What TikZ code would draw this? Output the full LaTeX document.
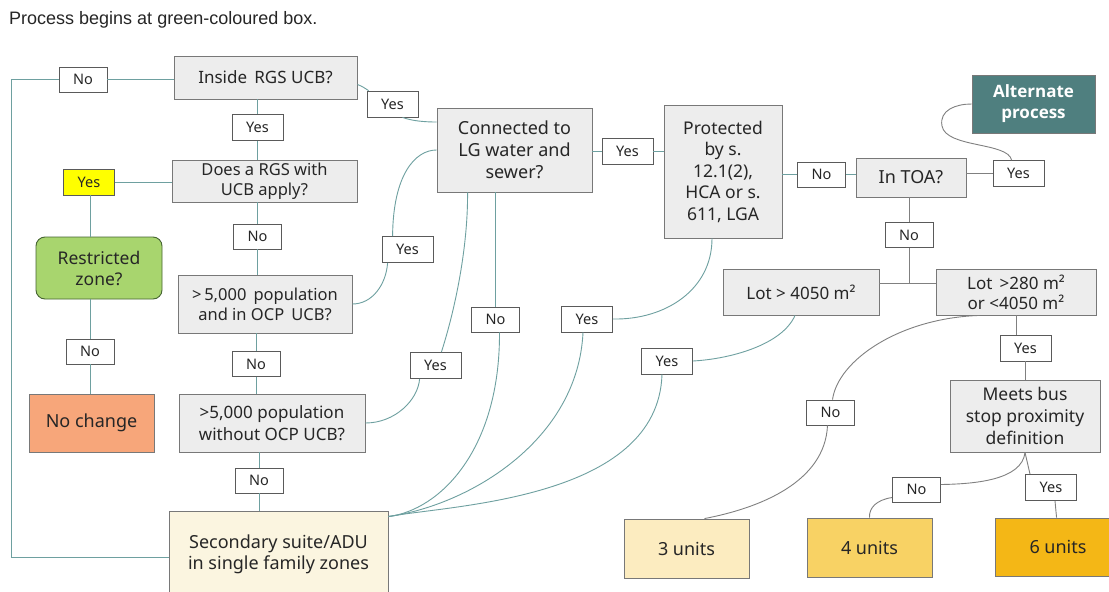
\documentclass[tikz,border=0pt]{standalone}
\usepackage{fontspec}
\setmainfont{Noto Sans}
\newfontfamily\altfont{Open Sans}
\newfontfamily\titlefont{Liberation Sans}
\usetikzlibrary{calc}

\definecolor{connc}{RGB}{110,160,160}
\definecolor{conngc}{RGB}{128,128,128}
\definecolor{boxfill}{RGB}{237,237,237}
\definecolor{boxdraw}{RGB}{120,120,120}
\definecolor{labdraw}{RGB}{90,90,90}
\definecolor{ylwc}{RGB}{255,255,0}
\definecolor{grnc}{RGB}{168,213,110}
\definecolor{grndc}{RGB}{70,100,50}
\definecolor{orngc}{RGB}{247,166,122}
\definecolor{creamc}{RGB}{251,245,224}
\definecolor{uthree}{RGB}{252,236,192}
\definecolor{ufour}{RGB}{248,210,100}
\definecolor{usix}{RGB}{244,183,22}
\definecolor{altc}{RGB}{79,127,127}
\definecolor{txtc}{RGB}{38,38,38}

\begin{document}
\begin{tikzpicture}[x=1pt,y=-1pt,
 qbox/.style={draw=boxdraw, fill=boxfill, line width=0.9pt, inner sep=0pt, align=center,
   font=\fontsize{17}{21.5}\selectfont, text=txtc},
 lab/.style={draw=labdraw, fill=white, line width=0.8pt, inner sep=0pt, minimum width=48,
   minimum height=25, font=\fontsize{14.5}{17}\selectfont, text=txtc},
 ylab/.style={lab, minimum width=51, minimum height=26},
 conn/.style={draw=connc, line width=0.9pt},
 conng/.style={draw=conngc, line width=0.9pt}]

\useasboundingbox (0,0) rectangle (1109,592);
\fill[white] (0,0) rectangle (1109,592);

% title
\node[anchor=west, inner sep=0pt, font=\titlefont\fontsize{18}{21}\selectfont, text=black!85] (title) at (9,20) {Process begins at green-coloured box.};

% main boxes
\node[qbox, minimum width=183, minimum height=43] (inside) at (265.5,77.5) {Inside \,RGS UCB?};
\node[qbox, minimum width=185, minimum height=42, font=\fontsize{16.5}{20}\selectfont] (does) at (264.5,181) {Does a RGS with\\UCB apply?};
\node[qbox, minimum width=174, minimum height=58, font=\fontsize{16.5}{20}\selectfont] (pop1) at (265,304) {>\,5,000 \,population\\and in OCP \,UCB?};
\node[qbox, minimum width=186, minimum height=58] (pop2) at (272,423) {>5,000 population\\without OCP UCB?};
\node[qbox, fill=creamc, minimum width=219, minimum height=86, font=\fontsize{18}{21}\selectfont] (secondary) at (278.5,554) {Secondary suite/ADU\\in single family zones};
\node[qbox, fill=grnc, draw=grndc, rounded corners=9pt, minimum width=126, minimum height=62, font=\fontsize{17.5}{21}\selectfont] (restricted) at (99,268) {Restricted\\zone?};
\node[qbox, fill=orngc, minimum width=125, minimum height=58, font=\fontsize{18}{21}\selectfont] (nochange) at (91.5,423) {No change};
\node[qbox, minimum width=155, minimum height=84, font=\fontsize{18}{22}\selectfont] (connected) at (514.5,150) {Connected to\\LG water and\\sewer?};
\node[qbox, minimum width=118, minimum height=133, font=\fontsize{17.5}{21.5}\selectfont] (protected) at (723,171.5) {Protected\\by s.\\12.1(2),\\HCA or s.\\611, LGA};
\node[qbox, minimum width=110, minimum height=39, font=\fontsize{18}{21}\selectfont] (toa) at (911,177.5) {In TOA?};
\node[qbox, fill=altc, draw=boxdraw, text=white, minimum width=123, minimum height=58, font=\altfont\bfseries\fontsize{17}{21}\selectfont] (alternate) at (1033.5,104) {Alternate\\process};
\node[qbox, minimum width=156, minimum height=46, font=\fontsize{17}{21}\selectfont] (lotone) at (801,292) {Lot > 4050 m²};
\node[qbox, minimum width=160, minimum height=46, font=\fontsize{17}{20}\selectfont] (lottwo) at (1016,292) {Lot \,>280 m²\\or <4050 m²};
\node[qbox, minimum width=150, minimum height=72, font=\fontsize{17.5}{22}\selectfont] (meets) at (1025,416) {Meets bus\\stop proximity\\definition};
\node[qbox, fill=uthree, minimum width=125, minimum height=59, font=\fontsize{18}{21}\selectfont] (uthreebox) at (686.5,548.5) {3 units};
\node[qbox, fill=ufour, minimum width=125, minimum height=59, font=\fontsize{18}{21}\selectfont] (ufourbox) at (869.5,547.5) {4 units};
\node[qbox, fill=usix, minimum width=126, minimum height=58, font=\fontsize{18}{21}\selectfont] (usixbox) at (1058,547) {6 units};

% labels
\node[lab] (nA) at (83,79.5) {No};
\node[ylab] (yA) at (257.5,127.5) {Yes};
\node[ylab] (yB) at (392.5,104) {Yes};
\node[ylab, fill=ylwc] (yY) at (89,182) {Yes};
\node[lab] (nB) at (90,351.5) {No};
\node[lab] (nC) at (257.5,236.5) {No};
\node[lab] (nD) at (256,364) {No};
\node[lab] (nE) at (259,480.5) {No};
\node[ylab] (yC) at (407.5,249.5) {Yes};
\node[ylab] (yD) at (435.5,365.5) {Yes};
\node[lab] (nF) at (495.5,319.5) {No};
\node[ylab] (yE) at (627.5,151) {Yes};
\node[ylab] (yF) at (587,319) {Yes};
\node[lab] (nG) at (821.5,174.5) {No};
\node[ylab] (yG) at (1018.5,173.5) {Yes};
\node[lab] (nH) at (909,235) {No};
\node[ylab] (yH) at (667,361) {Yes};
\node[lab] (nI) at (830.5,412.5) {No};
\node[ylab] (yI) at (1025.5,348) {Yes};
\node[lab] (nJ) at (916.5,489.5) {No};
\node[ylab] (yJ) at (1051,487.5) {Yes};

\coordinate (cLa) at (11,79.5);
\coordinate (cLb) at (11,557);
\coordinate (jn) at (0,283);

% connectors, left column
\draw[conn] (nA.east) -- (nA.east -| inside.west);
\draw[conn] (nA.west) -- (cLa) -- (cLb) -- (cLb -| secondary.west);
\draw[conn] (inside.south -| yA) -- (yA.north);
\draw[conn] (yA.south) -- (yA.south |- does.north);
\draw[conn] (yY.east) -- (yY.east -| does.west);
\draw[conn] ($(yY.south)+(1,0)$) -- ($(yY.south |- restricted.north)+(1,0)$);
\draw[conn] (restricted.south -| nB) -- (nB.north);
\draw[conn] (nB.south) -- (nB.south |- nochange.north);
\draw[conn] (does.south -| nC) -- (nC.north);
\draw[conn] (nC.south) -- (nC.south |- pop1.north);
\draw[conn] (pop1.south -| nD) -- (nD.north);
\draw[conn] (nD.south) -- (nD.south |- pop2.north);
\draw[conn] (pop2.south -| nE) -- (nE.north);
\draw[conn] (nE.south) -- (nE.south |- secondary.north);

% Inside -> Yes -> Connected
\draw[conn] ($(inside.east)+(0,7)$) .. controls (362,86) and (366,89) .. ($(yB.north west)+(2,0)$);
\draw[conn] ($(yB.south)+(10,0)$) .. controls (412,121) and (425,122) .. ($(connected.west)+(0,-28)$);

% pop1 -> Yes -> Connected
\draw[conn] (pop1.east) .. controls (372,304) and (386,285) .. ($(yC.south west)+(6,0)$);
\draw[conn] ($(yC.north west)+(11,0)$) .. controls (393,175) and (415,150) .. (connected.west);

% pop2 -> Yes -> Connected
\draw[conn] (pop2.east) .. controls (395,423) and (418,400) .. ($(yD.south west)+(10,0)$);
\draw[conn] ($(yD.north east)+(-20,0)$) .. controls (458,300) and (468,240) .. ($(connected.south west)+(31,0)$);

% Connected -> No -> Secondary
\draw[conn] (connected.south -| nF) -- (nF.north);
\draw[conn] ($(nF.south)+(4,0)$) .. controls (500,450) and (440,510) .. ($(secondary.north east)+(0,6)$);

% Connected -> Yes -> Protected
\draw[conn] (connected.east |- yE) -- (yE.west);
\draw[conn] (yE.east) -- (yE.east -| protected.west);

% Protected -> Yes -> Secondary
\draw[conn] ($(protected.south)+(-11,0)$) .. controls (712,290) and (665,320) .. (yF.east);
\draw[conn] ($(yF.south)+(-4,0)$) .. controls (578,440) and (470,505) .. ($(secondary.north east)+(0,6)$);

% Protected -> No -> TOA
\draw[conn] (protected.east |- nG) -- (nG.west);
\draw[conn] (nG.east) -- (nG.east -| toa.west);

% TOA -> Yes -> Alternate
\draw[conng] (toa.east |- yG) -- (yG.west);
\draw[conng] ($(yG.north west)+(19,0)$) .. controls (1008,142) and (946,148) .. (942,126) .. controls (939,110) and (956,104) .. (alternate.west);

% TOA -> No -> lots
\draw[conng] (toa.south -| nH) -- (nH.north);
\draw[conng] (nH.south) -- (nH.south |- jn);
\draw[conng] (lotone.east |- jn) -- (lottwo.west |- jn);

% Lot > 4050 -> Yes -> Secondary
\draw[conn] ($(lotone.south)+(-6,0)$) .. controls (782,345) and (730,359) .. (yH.east);
\draw[conn] ($(yH.south)+(-5,0)$) .. controls (658,500) and (450,505) .. ($(secondary.north east)+(0,6)$);

% Lot >280 -> Yes -> Meets
\draw[conng] (lottwo.south) -- (lottwo.south |- yI.north);
\draw[conng] (yI.south) -- (yI.south |- meets.north);

% Lot >280 -> No -> 3 units
\draw[conng] ($(lottwo.south west)+(44,0)$) .. controls (900,318) and (838,360) .. ($(nI.north)+(2,0)$);
\draw[conng] ($(nI.south)+(-3,0)$) .. controls (825,482) and (760,508) .. ($(uthreebox.north)+(18,0)$);

% Meets -> No -> 4 units ; Meets -> Yes -> 6 units
\draw[conng] (meets.south) .. controls (1022,480) and (975,484) .. ($(nJ.east)+(0,-5)$);
\draw[conng] ($(nJ.west)+(0,8)$) .. controls (876,500) and (869,508) .. (ufourbox.north);
\draw[conng] (meets.south) -- ($(yJ.north)+(-21,0)$);
\draw[conng] ($(yJ.south)+(4,0)$) -- ($(usixbox.north west)+(62,0)$);

\end{tikzpicture}
\end{document}
